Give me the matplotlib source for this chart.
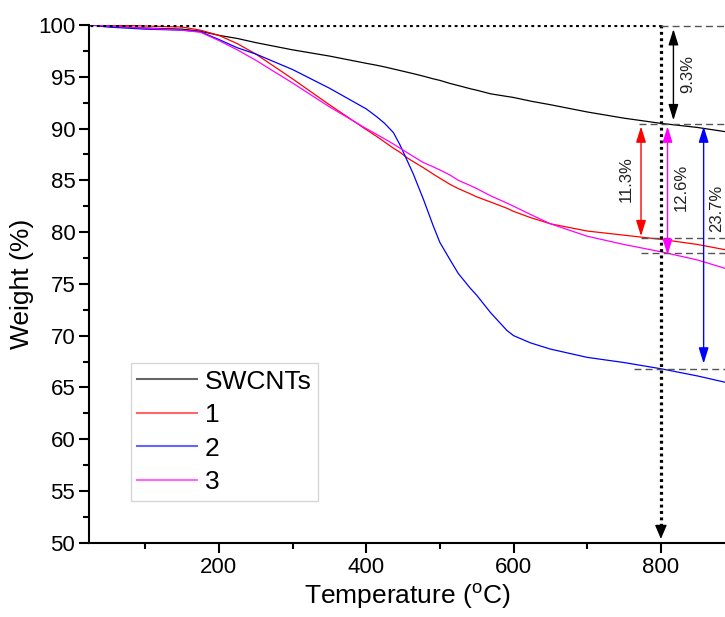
import matplotlib
matplotlib.use("Agg")
import matplotlib.pyplot as plt
import numpy as np

plt.rcParams['font.family'] = ['Liberation Sans', 'DejaVu Sans']
plt.rcParams['mathtext.fontset'] = 'custom'
plt.rcParams['mathtext.rm'] = 'Liberation Sans'

# ===== DATOS =====
temperature = [25, 50, 100, 150, 175, 200, 225, 250, 300, 350, 400, 415, 425, 437, 446,
               455, 464, 478, 491, 500, 514, 525, 541, 550, 569, 591, 600, 623, 650,
               700, 750, 800, 850, 887]

w_swcnt = [100, 99.9, 99.7, 99.6, 99.4, 99.0, 98.7, 98.3, 97.6, 97.0, 96.3, 96.1, 95.95,
           95.75, 95.6, 95.45, 95.3, 95.05, 94.8, 94.65, 94.35, 94.15, 93.85, 93.7, 93.35,
           93.1, 93.0, 92.65, 92.3, 91.6, 91.0, 90.5, 90.1, 89.7]
w_1 = [100, 100, 99.9, 99.8, 99.5, 99.0, 98.2, 97.2, 94.8, 92.3, 89.9, 89.2, 88.7,
       88.1, 87.7, 87.2, 86.8, 86.2, 85.6, 85.2, 84.6, 84.2, 83.7, 83.4, 82.9, 82.3,
       82.0, 81.4, 80.8, 80.1, 79.7, 79.3, 78.8, 78.3]
w_2 = [100, 99.8, 99.6, 99.5, 99.35, 98.6, 97.8, 97.2, 95.7, 93.9, 91.9, 91.1, 90.5,
       89.6, 88.4, 87.0, 85.6, 83.1, 80.6, 79.0, 77.3, 76.0, 74.6, 73.9, 72.2, 70.5,
       70.0, 69.3, 68.7, 67.9, 67.4, 66.8, 66.1, 65.5]
w_3 = [100, 99.9, 99.7, 99.5, 99.3, 98.5, 97.6, 96.6, 94.4, 92.1, 90.0, 89.4, 89.0,
       88.5, 88.1, 87.7, 87.3, 86.7, 86.3, 86.0, 85.5, 85.0, 84.5, 84.2, 83.5, 82.8,
       82.5, 81.7, 80.8, 79.6, 78.8, 78.1, 77.3, 76.5]

labels = ["SWCNTs", "1", "2", "3"]
colors = ["black", "red", "blue", "magenta"]

# ===== FIGURA =====
fig = plt.figure(figsize=(7.25, 6.17), dpi=100)
ax = fig.add_axes([0.123, 0.1204, 0.877, 0.8391])

for w, lab, c in zip([w_swcnt, w_1, w_2, w_3], labels, colors):
    ax.plot(temperature, w, color=c, lw=0.9, label=lab)

# lineas de referencia
ax.plot([25, 800], [100, 100], color="black", lw=2.3, ls=(0, (0.9, 1.1)))
ax.plot([800, 800], [100, 51.6], color="black", lw=2.3, ls=(0, (0.9, 1.1)))
ax.annotate("", xy=(800, 50.1), xytext=(800, 52.0),
            arrowprops=dict(arrowstyle="-|>,head_length=0.7,head_width=0.3",
                            color="black", lw=1, mutation_scale=12))

dash_style = dict(color="#555555", lw=1, ls=(0, (5, 3)))
ax.plot([800, 887], [99.9, 99.9], **dash_style)
ax.plot([770, 887], [90.45, 90.45], **dash_style)
ax.plot([773, 887], [79.45, 79.45], **dash_style)
ax.plot([773, 887], [77.95, 77.95], **dash_style)
ax.plot([763, 887], [66.8, 66.8], **dash_style)

arrow_style = "<|-|>,head_length=0.8,head_width=0.25"
ax.annotate("", xy=(817, 99.6), xytext=(817, 90.8),
            arrowprops=dict(arrowstyle=arrow_style, color="black", lw=1, mutation_scale=12,
                            shrinkA=0, shrinkB=0))
ax.annotate("", xy=(773, 90.2), xytext=(773, 79.6),
            arrowprops=dict(arrowstyle=arrow_style, color="red", lw=1, mutation_scale=12,
                            shrinkA=0, shrinkB=0))
ax.annotate("", xy=(809, 90.2), xytext=(809, 77.8),
            arrowprops=dict(arrowstyle=arrow_style, color="magenta", lw=1, mutation_scale=12,
                            shrinkA=0, shrinkB=0))
ax.annotate("", xy=(858, 90.2), xytext=(858, 67.3),
            arrowprops=dict(arrowstyle=arrow_style, color="blue", lw=1, mutation_scale=12,
                            shrinkA=0, shrinkB=0))

txt = dict(rotation=90, fontsize=12, ha="center", va="center", color="#222222")
ax.text(836, 95.3, "9.3%", **txt)
ax.text(753, 85.1, "11.3%", **txt)
ax.text(828, 84.3, "12.6%", **txt)
ax.text(876, 82.3, "23.7%", **txt)

# ===== EJES =====
ax.set_xlim(24, 887)
ax.set_ylim(50, 100)
ax.set_xticks([200, 400, 600, 800])
ax.set_xticks([100, 300, 500, 700], minor=True)
ax.set_yticks(np.arange(50, 101, 5))
ax.set_yticks(np.arange(52.5, 100, 5), minor=True)
ax.spines["top"].set_visible(False)
ax.spines["right"].set_visible(False)
for s in ["left", "bottom"]:
    ax.spines[s].set_linewidth(1.5)
ax.tick_params(which="major", direction="out", length=7, width=1.5, labelsize=16, pad=3)
ax.tick_params(which="minor", direction="out", length=4, width=1.5)

ax.set_xlabel(r"Temperature ($^{\mathrm{o}}$C)", fontsize=19, labelpad=3)
ax.set_ylabel("Weight (%)", fontsize=19, labelpad=3)

leg = ax.legend(loc="upper left", bbox_to_anchor=(0.0656, 0.347), borderaxespad=0,
                fontsize=19, frameon=True, fancybox=False, edgecolor="#cccccc",
                handlelength=2.25, labelspacing=0.36, borderpad=0.25, handletextpad=0.3)
leg.get_frame().set_linewidth(1)
for h in leg.get_lines():
    h.set_alpha(0.6)
    h.set_linewidth(1.5)

fig.savefig("out.png", dpi=100)
